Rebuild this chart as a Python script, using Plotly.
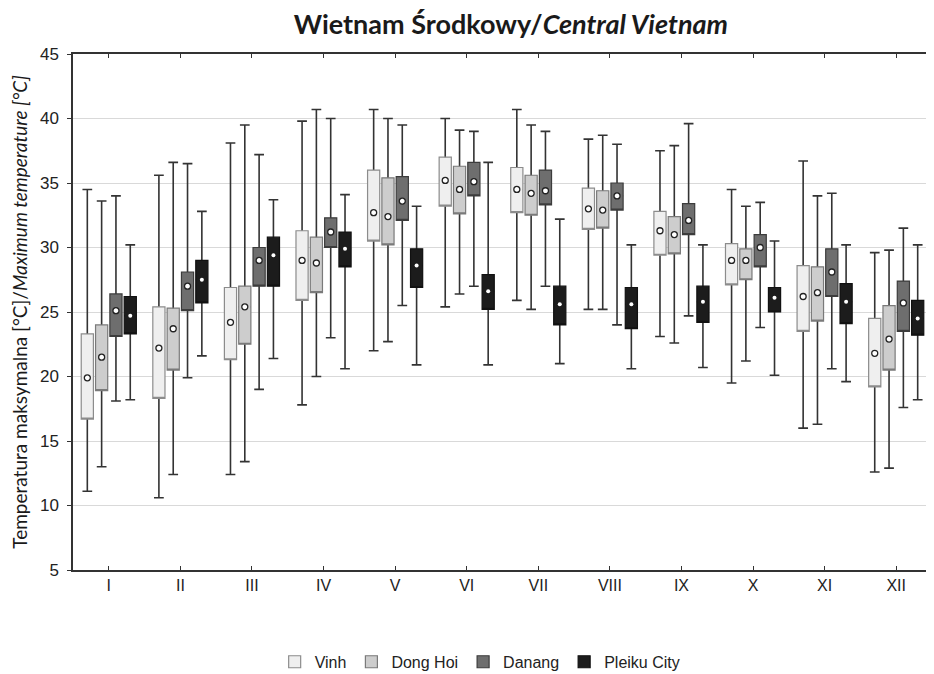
import plotly.graph_objects as go

months = ['I', 'II', 'III', 'IV', 'V', 'VI', 'VII', 'VIII', 'IX', 'X', 'XI', 'XII']
stations = ['Vinh', 'Dong Hoi', 'Danang', 'Pleiku City']

# whisker ends, quartiles and medians [°C]
vinh_upper = [34.5, 35.6, 38.1, 39.8, 40.7, 40.0, 40.7, 38.4, 37.5, 34.5, 36.7, 29.6]
vinh_q3 = [23.3, 25.4, 26.9, 31.3, 36.0, 37.0, 36.2, 34.6, 32.8, 30.3, 28.6, 24.5]
vinh_median = [19.9, 22.2, 24.2, 29.0, 32.7, 35.2, 34.5, 33.0, 31.3, 29.0, 26.2, 21.8]
vinh_q1 = [16.7, 18.3, 21.3, 25.9, 30.5, 33.2, 32.7, 31.4, 29.4, 27.1, 23.5, 19.2]
vinh_lower = [11.1, 10.6, 12.4, 17.8, 22.0, 25.4, 25.9, 25.2, 23.1, 19.5, 16.0, 12.6]

donghoi_upper = [33.6, 36.6, 39.5, 40.7, 40.0, 39.1, 39.5, 38.7, 37.9, 33.2, 34.0, 29.8]
donghoi_q3 = [24.0, 25.3, 27.0, 30.8, 35.4, 36.3, 35.6, 34.4, 32.4, 29.9, 28.5, 25.5]
donghoi_median = [21.5, 23.7, 25.4, 28.8, 32.4, 34.5, 34.2, 32.9, 31.0, 29.0, 26.5, 22.9]
donghoi_q1 = [18.9, 20.5, 22.5, 26.5, 30.2, 32.6, 32.5, 31.5, 29.5, 27.5, 24.3, 20.5]
donghoi_lower = [13.0, 12.4, 13.4, 20.0, 22.7, 26.4, 25.2, 25.2, 22.6, 21.2, 16.3, 12.9]

danang_upper = [34.0, 36.5, 37.2, 40.0, 39.5, 39.0, 39.0, 38.0, 39.6, 33.5, 34.2, 31.5]
danang_q3 = [26.4, 28.1, 30.0, 32.3, 35.5, 36.6, 36.0, 35.0, 33.4, 31.0, 29.9, 27.4]
danang_median = [25.1, 27.0, 29.0, 31.2, 33.6, 35.1, 34.4, 34.0, 32.1, 30.0, 28.1, 25.7]
danang_q1 = [23.1, 25.1, 27.0, 30.0, 32.1, 34.0, 33.3, 32.9, 31.0, 28.5, 26.2, 23.5]
danang_lower = [18.1, 19.9, 19.0, 23.0, 25.5, 27.0, 27.0, 24.0, 24.7, 23.8, 20.6, 17.6]

pleiku_upper = [30.2, 32.8, 33.7, 34.1, 33.2, 36.6, 32.2, 30.2, 30.2, 30.5, 30.2, 30.2]
pleiku_q3 = [26.2, 29.0, 30.8, 31.2, 29.9, 27.9, 27.0, 26.9, 27.0, 26.9, 27.2, 25.9]
pleiku_median = [24.7, 27.5, 29.4, 29.9, 28.6, 26.6, 25.6, 25.6, 25.8, 26.1, 25.8, 24.5]
pleiku_q1 = [23.3, 25.7, 27.0, 28.5, 26.9, 25.2, 24.0, 23.7, 24.2, 25.0, 24.1, 23.2]
pleiku_lower = [18.2, 21.6, 21.4, 20.6, 20.9, 20.9, 21.0, 20.6, 20.7, 20.1, 19.6, 18.2]

stats = [
    (vinh_lower, vinh_q1, vinh_median, vinh_q3, vinh_upper),
    (donghoi_lower, donghoi_q1, donghoi_median, donghoi_q3, donghoi_upper),
    (danang_lower, danang_q1, danang_median, danang_q3, danang_upper),
    (pleiku_lower, pleiku_q1, pleiku_median, pleiku_q3, pleiku_upper),
]

fills = ['#efefef', '#cdcdcd', '#6e6e6e', '#1c1c1c']
edges = ['#8c8c8c', '#7a7a7a', '#3c3c3c', '#111111']
offsets = [-0.3, -0.1, 0.1, 0.3]
box_w = 0.17
whisker_col = '#333333'

fig = go.Figure()
idx = list(range(1, len(months) + 1))

for j, name in enumerate(stations):
    lo, q1, med, q3, hi = stats[j]
    xpos = [i + offsets[j] for i in idx]
    # whiskers: collapsed box at the median, hidden under the box drawn next
    fig.add_trace(go.Box(
        x=xpos, q1=med, median=med, q3=med, lowerfence=lo, upperfence=hi,
        width=box_w, whiskerwidth=0.8, fillcolor=fills[j],
        line=dict(color=whisker_col, width=1.6),
        showlegend=False, hoverinfo='skip'))
    # box itself (median line pushed onto the lower edge, marker shows it)
    fig.add_trace(go.Box(
        x=xpos, q1=q1, median=q1, q3=q3, lowerfence=q1, upperfence=q3,
        width=box_w, whiskerwidth=0, fillcolor=fills[j],
        line=dict(color=edges[j], width=1.2),
        name=name, legendgroup=name))

for j, name in enumerate(stations):
    med = stats[j][2]
    xpos = [i + offsets[j] for i in idx]
    if j < 3:
        mk = dict(symbol='circle', size=6, color='white',
                  line=dict(color='#222222', width=1.3))
    else:
        mk = dict(symbol='circle', size=4, color='white', line=dict(width=0))
    fig.add_trace(go.Scatter(x=xpos, y=med, mode='markers', marker=mk,
                             showlegend=False, hoverinfo='skip'))

# page is drawn with an 8px body margin, so the figure is 8px smaller
fig.update_layout(
    width=926, height=666,
    paper_bgcolor='white', plot_bgcolor='white',
    margin=dict(l=65, r=2, t=46, b=104, autoexpand=False),
    title=dict(text='<b>Wietnam Środkowy/<i>Central Vietnam</i></b>',
               x=0.543, xanchor='center', y=0.975, yanchor='middle',
               font=dict(family='Lato', size=27, color='#1a1a1a')),
    legend=dict(orientation='h', x=0.474, xanchor='center',
                y=-0.178, yanchor='middle',
                font=dict(family='Liberation Sans, Arial', size=16, color='#222222'),
                itemwidth=30, tracegroupgap=0),
    boxmode='overlay',
    showlegend=True,
)

fig.update_xaxes(
    range=[0.5, 12.5], tickmode='array', tickvals=idx, ticktext=months,
    showline=True, linecolor='#333333', linewidth=1.5, mirror='ticks',
    ticks='inside', ticklen=4, tickcolor='#333333',
    showgrid=False, zeroline=False,
    tickfont=dict(family='Liberation Sans, Arial', size=16, color='#222222'),
)
fig.update_yaxes(
    range=[5, 45], dtick=5, tick0=5, automargin=False,
    showline=True, linecolor='#333333', linewidth=1.5,
    ticks='outside', ticklen=4, tickcolor='#333333', ticklabelstandoff=5,
    showgrid=True, gridcolor='#d9d9d9', gridwidth=1.2, zeroline=False,
    tickfont=dict(family='Liberation Sans, Arial', size=17, color='#222222'),
    title=dict(text='Temperatura maksymalna [°C]/<i>Maximum temperature [°C]</i>',
               font=dict(family='Lato', size=19, color='#1a1a1a'), standoff=10),
)

fig.write_html("out.html")
